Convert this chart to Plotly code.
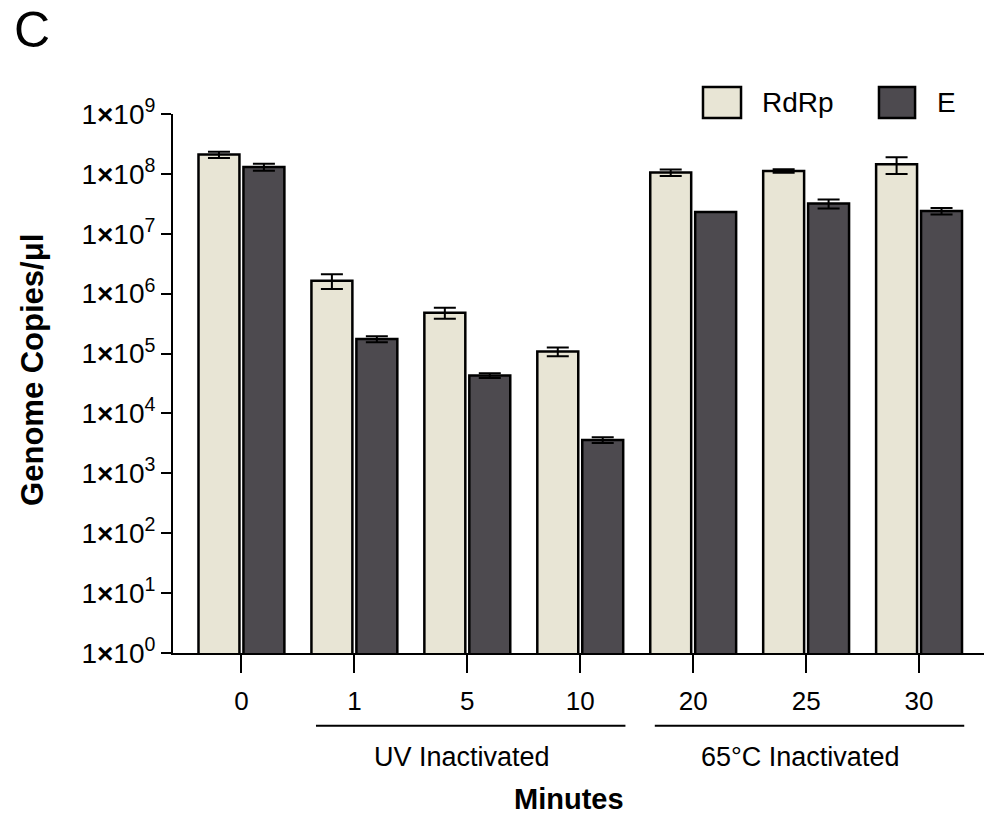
import plotly.graph_objects as go

minutes = ["0", "1", "5", "10", "20", "25", "30"]
rdrp = [2.1e8, 1.65e6, 4.8e5, 1.08e5, 1.05e8, 1.12e8, 1.45e8]
rdrp_err = [0.25e8, 0.45e6, 1.0e5, 0.18e5, 0.13e8, 0.08e8, 0.45e8]
e_gene = [1.3e8, 1.75e5, 4.3e4, 3.6e3, 2.3e7, 3.2e7, 2.4e7]
e_err = [0.17e8, 0.2e5, 0.4e4, 0.4e3, 0.0, 0.55e7, 0.3e7]
ytick_vals = [10 ** k for k in range(10)]
ytick_text = ["1<b>×</b>10<sup>%d</sup>" % k for k in range(10)]
groups = [("UV Inactivated", "1", "10"), ("65°C Inactivated", "20", "30")]

FONT = "Liberation Sans, Arial, sans-serif"
RDRP_COLOR = "#E8E5D5"
E_COLOR = "#4D4A4F"

fig = go.Figure()
fig.add_trace(go.Bar(
    x=minutes, y=rdrp, name="RdRp",
    marker=dict(color=RDRP_COLOR, line=dict(color="black", width=2.5)),
    error_y=dict(type="data", array=rdrp_err, color="black", thickness=2, width=11),
    showlegend=False,
))
fig.add_trace(go.Bar(
    x=minutes, y=e_gene, name="E",
    marker=dict(color=E_COLOR, line=dict(color="black", width=2.5)),
    error_y=dict(type="data", array=e_err, color="black", thickness=2, width=11),
    showlegend=False,
))

shapes = []
annotations = []
# group brackets and labels
for label, start, end in groups:
    i0 = minutes.index(start)
    i1 = minutes.index(end)
    shapes.append(dict(type="line", xref="x", yref="paper",
                       x0=i0 - 0.34, x1=i1 + 0.4, y0=-0.135, y1=-0.135,
                       line=dict(color="black", width=2)))
    annotations.append(dict(xref="x", yref="paper", x=(i0 + i1) / 2 - 0.05, y=-0.193,
                            text=label, showarrow=False,
                            font=dict(family=FONT, size=27, color="black"),
                            xanchor="center", yanchor="middle"))

annotations.append(dict(xref="x", yref="paper", x=2.9, y=-0.27, text="<b>Minutes</b>",
                        showarrow=False, font=dict(family=FONT, size=29, color="black"),
                        xanchor="center", yanchor="middle"))
annotations.append(dict(xref="paper", yref="paper", x=-0.1985, y=1.156, text="C",
                        showarrow=False, font=dict(family=FONT, size=50, color="black"),
                        xanchor="left", yanchor="middle"))
annotations.append(dict(xref="paper", yref="paper", x=-0.174, y=0.525,
                        text="<b>Genome Copies/μl</b>", textangle=-90, showarrow=False,
                        font=dict(family=FONT, size=31, color="black"),
                        xanchor="center", yanchor="middle"))

# custom legend
legend_items = [("RdRp", RDRP_COLOR, 0.6535, 0.7004, 0.7238),
                ("E", E_COLOR, 0.8705, 0.915, 0.9396)]
for name, color, bx0, bx1, tx in legend_items:
    shapes.append(dict(type="rect", xref="paper", yref="paper",
                       x0=bx0, x1=bx1, y0=0.9926, y1=1.050,
                       fillcolor=color, line=dict(color="black", width=2.5)))
    annotations.append(dict(xref="paper", yref="paper", x=tx, y=1.021, text=name,
                            showarrow=False, font=dict(family=FONT, size=28, color="black"),
                            xanchor="left", yanchor="middle"))

fig.update_layout(
    width=987, height=817,
    margin=dict(l=173, r=3, t=114, b=164, autoexpand=False),
    paper_bgcolor="white", plot_bgcolor="white",
    barmode="group", bargap=0.204, bargroupgap=0.089,
    font=dict(family=FONT, color="black"),
    shapes=shapes, annotations=annotations,
    xaxis=dict(
        type="category", categoryorder="array", categoryarray=minutes,
        range=[-0.606, 6.575],
        showline=True, linecolor="black", linewidth=2,
        ticks="outside", ticklen=18, tickwidth=2, tickcolor="black",
        ticklabelstandoff=6,
        tickfont=dict(family=FONT, size=26, color="black"),
        showgrid=False, zeroline=False,
    ),
    yaxis=dict(
        type="log", range=[0, 9],
        tickvals=ytick_vals, ticktext=ytick_text,
        showline=True, linecolor="black", linewidth=2,
        ticks="outside", ticklen=10, tickwidth=2, tickcolor="black",
        tickfont=dict(family=FONT, size=28, color="black"),
        showgrid=False, zeroline=False,
    ),
)

fig.write_html("out.html", config={"displayModeBar": False},
               post_script="document.body.style.margin='0';")
